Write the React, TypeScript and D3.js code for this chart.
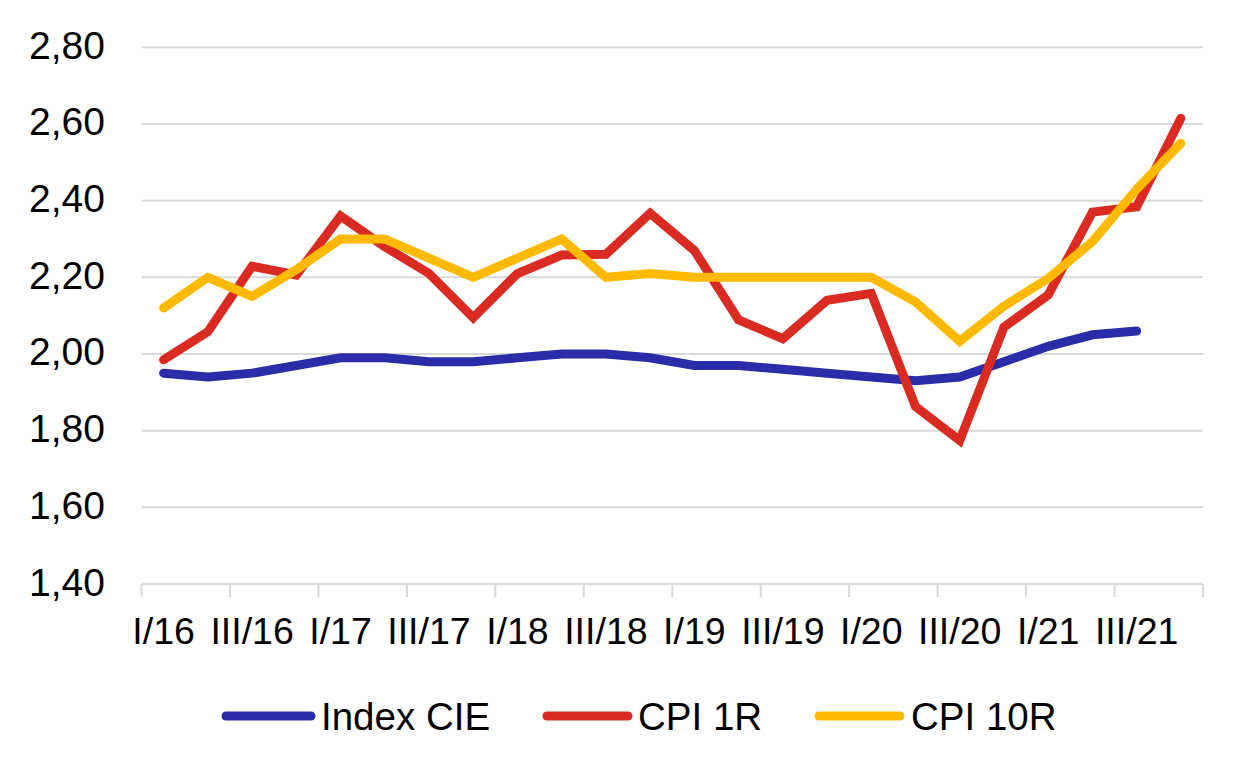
import React from "react";
import * as d3 from "d3";

const quarters: string[] = [
  "I/16", "II/16", "III/16", "IV/16",
  "I/17", "II/17", "III/17", "IV/17",
  "I/18", "II/18", "III/18", "IV/18",
  "I/19", "II/19", "III/19", "IV/19",
  "I/20", "II/20", "III/20", "IV/20",
  "I/21", "II/21", "III/21", "IV/21",
];

const indexCIE: (number | null)[] = [
  1.95, 1.94, 1.95, 1.97, 1.99, 1.99, 1.98, 1.98,
  1.99, 2.0, 2.0, 1.99, 1.97, 1.97, 1.96, 1.95,
  1.94, 1.93, 1.94, 1.98, 2.02, 2.05, 2.06, null,
];

const cpi1R: number[] = [
  1.985, 2.058, 2.229, 2.206, 2.36, 2.28, 2.21, 2.095,
  2.21, 2.258, 2.26, 2.367, 2.27, 2.089, 2.04, 2.14,
  2.158, 1.863, 1.774, 2.07, 2.154, 2.37, 2.384, 2.615,
];

const cpi10R: number[] = [
  2.12, 2.2, 2.15, 2.22, 2.3, 2.3, 2.25, 2.2,
  2.25, 2.3, 2.2, 2.21, 2.2, 2.2, 2.2, 2.2,
  2.2, 2.136, 2.033, 2.125, 2.197, 2.293, 2.43, 2.55,
];

const yTicks: number[] = [1.4, 1.6, 1.8, 2.0, 2.2, 2.4, 2.6, 2.8];

const seriesNames: string[] = ["Index CIE", "CPI 1R", "CPI 10R"];
const seriesColors: string[] = ["#2B2DA8", "#D92B21", "#FFBA00"];

const W = 1241;
const H = 776;
const left = 141.5;
const right = 1203;
const top = 47.3;
const bottom = 584;
const FONT = "'Liberation Sans', Arial, sans-serif";

export default function App() {
  const x = d3.scaleBand<string>().domain(quarters).range([left, right]).padding(0);
  const y = d3.scaleLinear().domain([1.4, 2.8]).range([bottom, top]);
  const bw = x.bandwidth();
  const cx = (q: string) => (x(q) as number) + bw / 2;

  const line = d3
    .line<number | null>()
    .defined((d) => d !== null)
    .x((_, i) => cx(quarters[i]))
    .y((d) => y(d as number));

  const allSeries = [indexCIE, cpi1R, cpi10R];

  const tickXs = d3.range(0, quarters.length + 1, 2).map((i) => left + i * bw);

  const legendItems = [
    { x1: 226, x2: 311, tx: 321 },
    { x1: 547, x2: 628, tx: 638 },
    { x1: 819, x2: 900, tx: 911 },
  ];

  return (
    <svg
      width={W}
      height={H}
      style={{ position: "absolute", left: 0, top: 0, background: "#fff" }}
      fontFamily={FONT}
    >
      <rect x={0} y={0} width={W} height={H} fill="#fff" />
      {yTicks.map((t) => (
        <g key={t}>
          <line
            x1={left}
            x2={right}
            y1={y(t)}
            y2={y(t)}
            stroke="#D9D9D9"
            strokeWidth={2}
          />
          <text
            x={105}
            y={y(t) + 11.5}
            textAnchor="end"
            fontSize={39}
            fill="#000"
          >
            {t.toFixed(2).replace(".", ",")}
          </text>
        </g>
      ))}
      {tickXs.map((tx, i) => (
        <line
          key={i}
          x1={tx}
          x2={tx}
          y1={bottom}
          y2={bottom + 13}
          stroke="#D9D9D9"
          strokeWidth={2}
        />
      ))}
      {quarters.map((q, i) =>
        i % 2 === 0 ? (
          <text
            key={q}
            x={cx(q)}
            y={644}
            textAnchor="middle"
            fontSize={37.5}
            fill="#000"
          >
            {q}
          </text>
        ) : null
      )}
      {allSeries.map((s, k) => (
        <path
          key={k}
          d={line(s) || ""}
          fill="none"
          stroke={seriesColors[k]}
          strokeWidth={9}
          strokeLinejoin="miter"
          strokeMiterlimit={4}
          strokeLinecap="round"
        />
      ))}
      {seriesNames.map((n, k) => (
        <g key={n}>
          <line
            x1={legendItems[k].x1}
            x2={legendItems[k].x2}
            y1={716}
            y2={716}
            stroke={seriesColors[k]}
            strokeWidth={9}
            strokeLinecap="round"
          />
          <text x={legendItems[k].tx} y={729.5} fontSize={38.5} fill="#000">
            {n}
          </text>
        </g>
      ))}
    </svg>
  );
}
